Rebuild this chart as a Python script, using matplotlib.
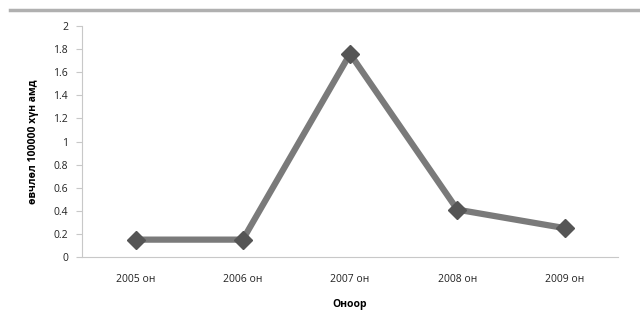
import matplotlib.pyplot as plt
from matplotlib.lines import Line2D

years = ["2005 он", "2006 он", "2007 он", "2008 он", "2009 он"]
values = [0.15, 0.15, 1.76, 0.41, 0.25]
y_ticks = [0, 0.2, 0.4, 0.6, 0.8, 1, 1.2, 1.4, 1.6, 1.8, 2]

plt.rcParams['font.family'] = ['Open Sans', 'DejaVu Sans']

fig = plt.figure(figsize=(6.4, 3.35), dpi=100)
ax = fig.add_axes([0.128, 0.233, 0.838, 0.689])

x = list(range(len(years)))
ax.plot(x, values, color="#7a7a7a", linewidth=4.5, solid_joinstyle="miter",
        marker="D", markersize=9.5, markerfacecolor="#555555",
        markeredgecolor="#555555", zorder=3)

ax.set_xlim(-0.5, len(years) - 0.5)
ax.set_ylim(0, 2)
ax.set_yticks(y_ticks)
ax.set_yticklabels([("%g" % v) for v in y_ticks], fontsize=7.5, color="#222222")
ax.set_xticks(x)
ax.set_xticklabels(years, fontsize=7.5, color="#222222")

for side in ["top", "right"]:
    ax.spines[side].set_visible(False)
ax.spines["left"].set_color("#c8c8c8")
ax.spines["bottom"].set_color("#c8c8c8")
ax.tick_params(axis="y", length=4, color="#c8c8c8", pad=6)
ax.tick_params(axis="x", length=0, pad=12)

ax.set_ylabel("өвчлөл 100000 хүн амд", fontsize=7.5, fontweight="bold", labelpad=10)
ax.set_xlabel("Оноор", fontsize=7.5, fontweight="bold", labelpad=10)

# gray border line at the top
fig.add_artist(Line2D([0.015, 1.0], [0.97, 0.97], color="#b0b0b0", linewidth=2.5))

fig.savefig("out.png", dpi=100)
